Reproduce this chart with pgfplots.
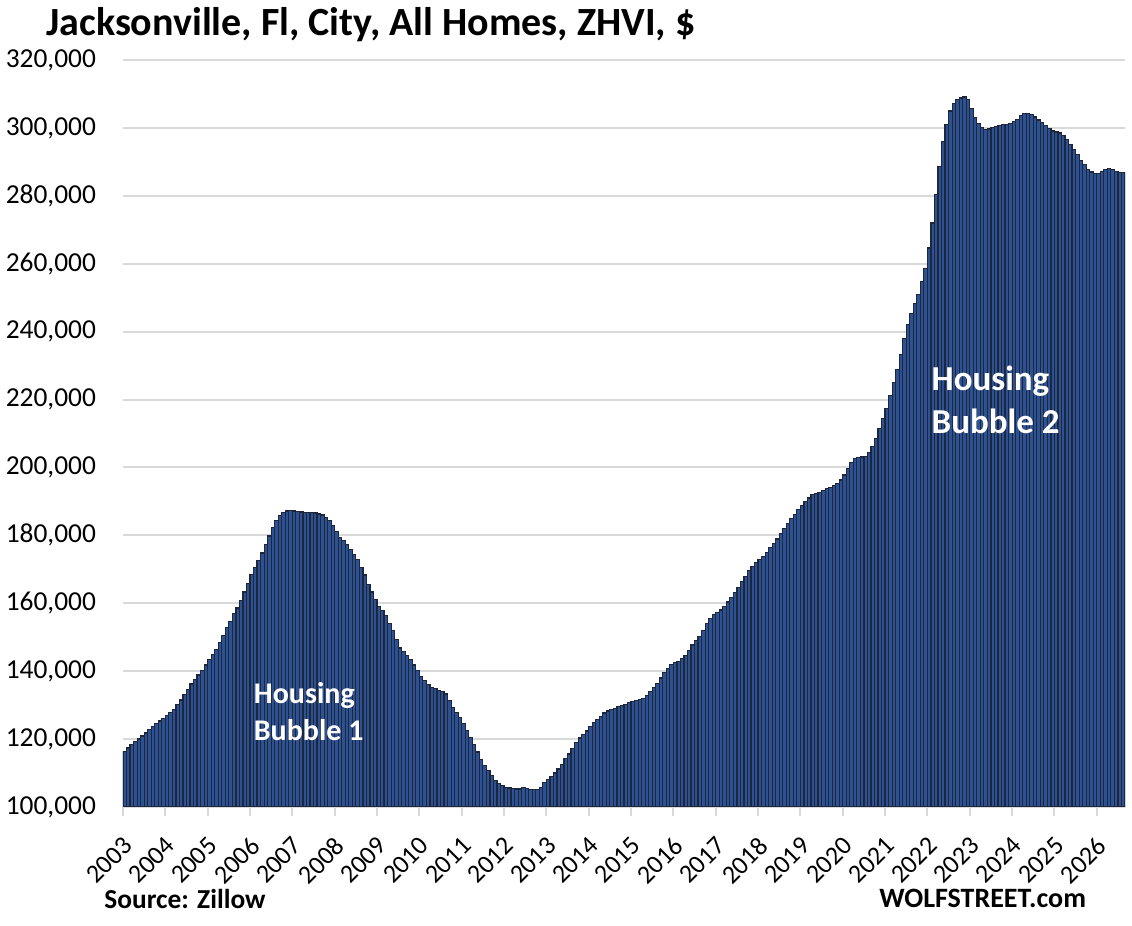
\documentclass[border=0pt]{standalone}
\usepackage{fontspec}
\setmainfont{Carlito}
\usepackage{pgfplots}
\pgfplotsset{compat=1.18}
\usepackage{pgfplotstable}
\definecolor{barblue}{RGB}{45,82,148}
\definecolor{bardark}{RGB}{30,38,60}
\definecolor{gridgray}{RGB}{217,217,217}

\pgfplotstableread{
i v
0 116300
1 117400
2 118300
3 119200
4 120000
5 120900
6 121800
7 122800
8 123700
9 124600
10 125300
11 126100
12 127000
13 127900
14 128800
15 130100
16 131500
17 133100
18 134600
19 136200
20 137600
21 138900
22 140200
23 141800
24 143500
25 144800
26 146500
27 148400
28 150600
29 152800
30 154600
31 156900
32 158600
33 160800
34 163300
35 165800
36 168400
37 170600
38 172700
39 174800
40 177300
41 179800
42 182300
43 184400
44 185900
45 186800
46 187200
47 187300
48 187200
49 187000
50 186900
51 186800
52 186800
53 186800
54 186600
55 186300
56 186000
57 185300
58 184400
59 182800
60 181100
61 179400
62 178400
63 177300
64 175800
65 174300
66 172800
67 170600
68 168300
69 165600
70 163300
71 161200
72 159100
73 157800
74 156300
75 154000
76 152000
77 149300
78 146800
79 145800
80 144600
81 143400
82 141800
83 140100
84 138400
85 137300
86 136000
87 135200
88 134800
89 134400
90 134100
91 133300
92 131400
93 129400
94 127800
95 126400
96 124600
97 122500
98 120500
99 118300
100 116200
101 114000
102 112300
103 110800
104 109300
105 107800
106 107000
107 106400
108 105800
109 105600
110 105400
111 105300
112 105300
113 105700
114 105500
115 105200
116 105100
117 105200
118 105800
119 107100
120 108100
121 108900
122 110000
123 111200
124 112600
125 114200
126 115600
127 117200
128 118900
129 120300
130 121400
131 122400
132 123600
133 124900
134 125800
135 126700
136 127700
137 128300
138 128700
139 129000
140 129500
141 129900
142 130300
143 130700
144 131100
145 131400
146 131600
147 132000
148 132900
149 134000
150 135100
151 136400
152 138000
153 139600
154 140800
155 142000
156 142600
157 142900
158 143700
159 144700
160 146100
161 147700
162 149000
163 150200
164 152000
165 154000
166 155500
167 156600
168 157300
169 158000
170 159000
171 160400
172 161700
173 163100
174 164600
175 166300
176 168000
177 169600
178 170800
179 172000
180 172800
181 173800
182 174900
183 176400
184 177600
185 178900
186 180600
187 182100
188 183500
189 185000
190 186100
191 187500
192 188700
193 189900
194 191000
195 192000
196 192400
197 192700
198 193200
199 193800
200 194200
201 194600
202 195300
203 196300
204 197800
205 199600
206 201400
207 202600
208 203000
209 203100
210 203300
211 204500
212 206200
213 208500
214 211400
215 214300
216 217400
217 221100
218 225100
219 228900
220 233200
221 237900
222 242100
223 245300
224 248300
225 251000
226 254700
227 258700
228 264600
229 272000
230 280400
231 288700
232 295900
233 301100
234 305000
235 307300
236 308400
237 308800
238 309100
239 308400
240 305800
241 303000
242 301300
243 300100
244 299600
245 299700
246 300100
247 300500
248 300800
249 301100
250 301000
251 301300
252 301800
253 302500
254 303700
255 304200
256 304200
257 304000
258 303200
259 302300
260 301500
261 300800
262 299800
263 299100
264 298800
265 298500
266 297800
267 296600
268 295200
269 293600
270 292200
271 290500
272 289200
273 287800
274 287000
275 286500
276 286600
277 287100
278 287800
279 288000
280 287800
281 287100
282 286800
283 286800
}\datatable

\begin{document}
\begin{tikzpicture}
\useasboundingbox (0,0) rectangle (566pt,463pt);
\begin{axis}[
  at={(61.5pt,59.5pt)}, anchor=south west,
  scale only axis, width=501pt, height=373.5pt,
  xmin=-0.5, xmax=283.5, ymin=100000, ymax=320000,
  ytick={100000,120000,140000,160000,180000,200000,220000,240000,260000,280000,300000,320000},
  xtick={-0.5,11.5,23.5,35.5,47.5,59.5,71.5,83.5,95.5,107.5,119.5,131.5,143.5,155.5,167.5,179.5,191.5,203.5,215.5,227.5,239.5,251.5,263.5,275.5},
  xticklabels={2003,2004,2005,2006,2007,2008,2009,2010,2011,2012,2013,2014,2015,2016,2017,2018,2019,2020,2021,2022,2023,2024,2025,2026},
  scaled y ticks=false,
  yticklabel style={/pgf/number format/fixed, /pgf/number format/precision=0, /pgf/number format/1000 sep={,}, /pgf/number format/assume math mode=true, font=\fontsize{13.7}{16}\selectfont, xshift=-5.5pt},
  axis x line*=bottom, axis y line*=left,
  x axis line style={-, gridgray, line width=1pt},
  y axis line style={draw=none},
  ymajorgrids, grid style={gridgray, line width=1pt},
  ytick style={draw=none},
  xtick style={gridgray, line width=1pt},
  tick align=outside, major tick length=4.5pt,
  xticklabel style={font=\fontsize{13}{16}\selectfont, xshift=-0.5pt, yshift=-9.5pt, rotate=45, anchor=north east, inner sep=0pt},
  clip=true,
]
\addplot[ybar, bar width=1, fill=barblue, draw=bardark, line width=0.6pt] table[x=i, y=v] {\datatable};
\node[anchor=base west, text=white, font=\fontsize{15}{18}\bfseries\selectfont] at (axis cs:34.6,130600) {Housing};
\node[anchor=base west, text=white, font=\fontsize{15}{18}\bfseries\selectfont] at (axis cs:34.6,119700) {Bubble 1};
\node[anchor=base west, text=white, font=\fontsize{17.5}{21}\bfseries\selectfont] at (axis cs:226.7,222800) {Housing};
\node[anchor=base west, text=white, font=\fontsize{17.5}{21}\bfseries\selectfont] at (axis cs:226.7,210100) {Bubble 2};
\end{axis}
\node[anchor=base west, inner sep=0pt, font=\fontsize{20}{24}\bfseries\selectfont] at (23pt,445pt) {Jacksonville, Fl, City, All Homes, ZHVI, \$};
\node[anchor=base west, inner sep=0pt, font=\fontsize{13.7}{16}\bfseries\selectfont] at (52pt,8.5pt) {Source: Zillow};
\node[anchor=base west, inner sep=0pt, font=\fontsize{14}{17}\bfseries\selectfont] at (439.5pt,9pt) {WOLFSTREET.com};
\end{tikzpicture}
\end{document}
